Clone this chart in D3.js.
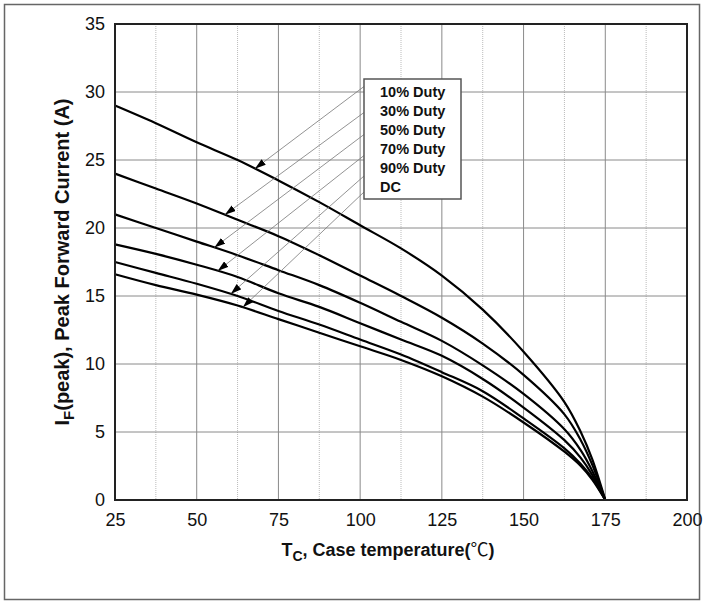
<!DOCTYPE html>
<html>
<head>
<meta charset="utf-8">
<script src="https://cdn.jsdelivr.net/npm/d3@7"></script>
<style>
  html, body { margin: 0; padding: 0; background: #fff; }
  svg { display: block; }
</style>
</head>
<body>
<script>
// ---------------- data ----------------
const temps = [25, 37.5, 50, 62.5, 75, 87.5, 100, 112.5, 125, 137.5, 150, 162.5, 167.5, 171, 175];
const seriesNames = ["10% Duty", "30% Duty", "50% Duty", "70% Duty", "90% Duty", "DC"];
const duty10 = [29.0, 27.7, 26.3, 25.0, 23.5, 21.9, 20.2, 18.5, 16.5, 14.0, 10.9, 7.2, 5.0, 3.0, 0];
const duty30 = [24.0, 22.9, 21.8, 20.6, 19.4, 18.0, 16.5, 15.0, 13.4, 11.5, 9.2, 6.3, 4.4, 2.6, 0];
const duty50 = [21.0, 20.0, 19.0, 18.0, 16.9, 15.8, 14.5, 13.1, 11.7, 9.9, 7.8, 5.2, 3.65, 2.15, 0];
const duty70 = [18.8, 18.1, 17.3, 16.4, 15.2, 14.2, 13.0, 11.8, 10.6, 8.9, 6.8, 4.4, 3.1, 1.85, 0];
const duty90 = [17.5, 16.7, 15.9, 15.0, 13.9, 12.9, 11.8, 10.7, 9.4, 8.0, 6.0, 3.8, 2.65, 1.6, 0];
const dutyDC = [16.6, 15.8, 15.1, 14.3, 13.3, 12.3, 11.3, 10.3, 9.1, 7.6, 5.7, 3.55, 2.5, 1.5, 0];
const arrowTemps = [67.8, 58.6, 55.4, 56.4, 60.4, 64.1];
const xTicks = [25, 50, 75, 100, 125, 150, 175, 200];
const xMinorTicks = [37.5, 62.5, 87.5, 112.5, 137.5, 162.5, 187.5];
const yTicks = [0, 5, 10, 15, 20, 25, 30, 35];

const allSeries = [duty10, duty30, duty50, duty70, duty90, dutyDC];

// ---------------- layout ----------------
const W = 704, H = 604;
const plot = { left: 115, right: 687, top: 24, bottom: 500 };
const legend = { x: 364, y: 79, w: 97, h: 120, textX: 380, firstBase: 97, step: 19 };
const leaderStartY = [86.5, 112.5, 134.5, 155.5, 176, 192];

const svg = d3.select("body").append("svg").attr("width", W).attr("height", H);

// outer frame
svg.append("rect").attr("x", 4.5).attr("y", 4.5).attr("width", 695).attr("height", 595)
  .attr("fill", "#fff").attr("stroke", "#666").attr("stroke-width", 1.5);

const x = d3.scaleLinear().domain([25, 200]).range([plot.left, plot.right]);
const y = d3.scaleLinear().domain([0, 35]).range([plot.bottom, plot.top]);

// minor dotted vertical grid
svg.append("g").selectAll("line").data(xMinorTicks).join("line")
  .attr("x1", d => x(d)).attr("x2", d => x(d))
  .attr("y1", plot.top).attr("y2", plot.bottom)
  .attr("stroke", "#bbb").attr("stroke-width", 1).attr("stroke-dasharray", "1,1");

// major grid
svg.append("g").selectAll("line").data(xTicks.slice(1, -1)).join("line")
  .attr("x1", d => x(d)).attr("x2", d => x(d))
  .attr("y1", plot.top).attr("y2", plot.bottom)
  .attr("stroke", "#8a8a8a").attr("stroke-width", 1);
svg.append("g").selectAll("line").data(yTicks.slice(1, -1)).join("line")
  .attr("x1", plot.left).attr("x2", plot.right)
  .attr("y1", d => y(d)).attr("y2", d => y(d))
  .attr("stroke", "#8a8a8a").attr("stroke-width", 1);

// axes (labels only, via d3 axis)
const xAxis = svg.append("g").attr("transform", `translate(0,${plot.bottom})`)
  .call(d3.axisBottom(x).tickValues(xTicks).tickSize(0).tickPadding(13).tickFormat(d3.format("d")));
const yAxis = svg.append("g").attr("transform", `translate(${plot.left},0)`)
  .call(d3.axisLeft(y).tickValues(yTicks).tickSize(0).tickPadding(10).tickFormat(d3.format("d")));
[xAxis, yAxis].forEach(g => {
  g.select(".domain").remove();
  g.selectAll("text").attr("font-family", "'Liberation Sans', Arial, sans-serif")
    .attr("font-size", 18).attr("fill", "#111");
});

// curves
const line = d3.line().x(d => x(d[0])).y(d => y(d[1])).curve(d3.curveCatmullRom.alpha(0.5));
svg.append("g").selectAll("path").data(allSeries).join("path")
  .attr("d", s => line(temps.map((t, i) => [t, s[i]])))
  .attr("fill", "none").attr("stroke", "#000").attr("stroke-width", 2.2)
  .attr("stroke-linejoin", "round");

// plot frame
svg.append("rect").attr("x", plot.left).attr("y", plot.top)
  .attr("width", plot.right - plot.left).attr("height", plot.bottom - plot.top)
  .attr("fill", "none").attr("stroke", "#222").attr("stroke-width", 2);

// arrow marker
svg.append("defs").append("marker")
  .attr("id", "ah").attr("viewBox", "0 0 11 7").attr("refX", 11).attr("refY", 3.5)
  .attr("markerWidth", 11).attr("markerHeight", 7).attr("markerUnits", "userSpaceOnUse")
  .attr("orient", "auto")
  .append("path").attr("d", "M0,0 L11,3.5 L0,7 Z").attr("fill", "#000");

function interp(s, t) {
  for (let i = 0; i < temps.length - 1; i++) {
    if (t >= temps[i] && t <= temps[i + 1]) {
      const f = (t - temps[i]) / (temps[i + 1] - temps[i]);
      return s[i] + f * (s[i + 1] - s[i]);
    }
  }
  return s[s.length - 1];
}

svg.append("g").selectAll("line").data(arrowTemps).join("line")
  .attr("x1", legend.x).attr("y1", (d, i) => leaderStartY[i])
  .attr("x2", d => x(d)).attr("y2", (d, i) => y(interp(allSeries[i], d)))
  .attr("stroke", "#777").attr("stroke-width", 0.8)
  .attr("marker-end", "url(#ah)");

// legend box
svg.append("rect").attr("x", legend.x).attr("y", legend.y)
  .attr("width", legend.w).attr("height", legend.h)
  .attr("fill", "#fff").attr("stroke", "#555").attr("stroke-width", 1.5);
svg.append("g").selectAll("text").data(seriesNames).join("text")
  .attr("x", legend.textX).attr("y", (d, i) => legend.firstBase + i * legend.step)
  .attr("font-family", "'Liberation Sans', Arial, sans-serif").attr("font-weight", "bold")
  .attr("font-size", 14.5).attr("fill", "#111").text(d => d);

// x title
const xt = svg.append("text").attr("x", 388).attr("y", 556).attr("text-anchor", "middle")
  .attr("font-family", "'Liberation Sans', Arial, sans-serif").attr("font-weight", "bold")
  .attr("font-size", 18).attr("fill", "#111");
xt.append("tspan").text("T");
xt.append("tspan").attr("font-size", 14).attr("dy", 5).text("C");
xt.append("tspan").attr("dy", -5).text(", Case temperature(");
xt.append("tspan").attr("font-family", "'Noto Sans CJK SC', sans-serif").attr("font-weight", "normal").text("℃");
xt.append("tspan").text(")");

// y title
const yt = svg.append("text").attr("transform", "translate(69,262) rotate(-90)")
  .attr("text-anchor", "middle")
  .attr("font-family", "'Liberation Sans', Arial, sans-serif").attr("font-weight", "bold")
  .attr("font-size", 20).attr("fill", "#111");
yt.append("tspan").text("I");
yt.append("tspan").attr("font-size", 15).attr("dy", 5).text("F");
yt.append("tspan").attr("dy", -5).text("(peak), Peak Forward Current (A)");
</script>
</body>
</html>
